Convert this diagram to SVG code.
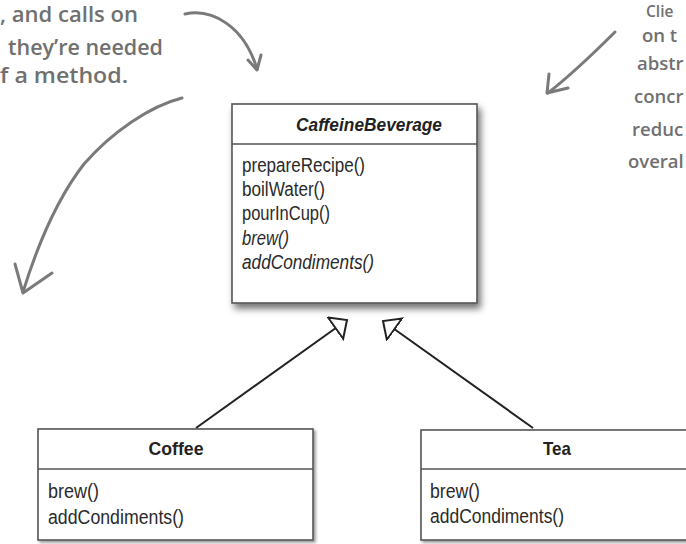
<svg xmlns="http://www.w3.org/2000/svg" width="686" height="544" viewBox="0 0 686 544">
  <defs>
    <style>
      .box { fill: #ffffff; stroke: #555555; stroke-width: 1.6; }
      .div { stroke: #555555; stroke-width: 1.6; }
      .title { font-family: "Liberation Sans", Arial, sans-serif; font-weight: bold; font-size: 19px; fill: #222222; text-anchor: middle; }
      .m { font-family: "Liberation Sans", Arial, sans-serif; font-size: 19.5px; fill: #2a2a2a; }
      .it { font-style: italic; }
      .note { font-family: "Open Sans", "DejaVu Sans", sans-serif; font-size: 21px; font-weight: 600; fill: #707070; }
      .noteR { font-family: "Open Sans", "DejaVu Sans", sans-serif; font-size: 18.5px; font-weight: 600; fill: #707070; }
      .hand { fill: none; stroke: #7a7a7a; stroke-width: 3; stroke-linecap: round; stroke-linejoin: round; }
      .gen { fill: none; stroke: #222222; stroke-width: 2; }
    </style>
    <filter id="shadow" x="-10%" y="-10%" width="130%" height="130%">
      <feDropShadow dx="3" dy="5" stdDeviation="3.5" flood-color="#000000" flood-opacity="0.55"/>
    </filter>
    <filter id="shadowSmall" x="-10%" y="-10%" width="130%" height="130%">
      <feDropShadow dx="2" dy="2" stdDeviation="1.5" flood-color="#000000" flood-opacity="0.4"/>
    </filter>
    <marker id="genHead" markerUnits="userSpaceOnUse" viewBox="0 0 20 30" markerWidth="20" markerHeight="30" refX="15" refY="14" orient="auto">
      <path d="M1,1 L15,14 L1,27 Z" fill="#ffffff" stroke="#222222" stroke-width="2" stroke-linejoin="miter"/>
    </marker>
  </defs>

  <rect width="686" height="544" fill="#ffffff"/>

  <!-- handwritten annotations -->
  <g id="note-left">
    <text class="note" x="0" y="22" textLength="138" lengthAdjust="spacingAndGlyphs">, and calls on</text>
    <text class="note" x="8" y="55" textLength="155" lengthAdjust="spacingAndGlyphs">they’re needed</text>
    <text class="note" x="0" y="83" textLength="128" lengthAdjust="spacingAndGlyphs">f a method.</text>
  </g>
  <g id="note-right">
    <text class="noteR" x="646" y="17" style="font-size:15.5px">Clie</text>
    <text class="noteR" x="642" y="42">on t</text>
    <text class="noteR" x="637" y="70">abstr</text>
    <text class="noteR" x="634" y="103">concr</text>
    <text class="noteR" x="632" y="136">reduc</text>
    <text class="noteR" x="628" y="168">overal</text>
  </g>
  <g id="hand-arrows">
    <path class="hand" d="M185,14 C212,8 244,26 257,69"/>
    <path class="hand" d="M248,60 L257,70 L261,55"/>
    <path class="hand" d="M182,98 C150,106 112,132 84,164 C56,200 36,250 23,292"/>
    <path class="hand" d="M15,264 L23,293 L52,273"/>
    <path class="hand" d="M615,32 C595,52 572,74 548,93"/>
    <path class="hand" d="M549,74 L547,93 L568,88"/>
  </g>

  <!-- connectors -->
  <g id="connectors">
    <line class="gen" x1="196" y1="428" x2="347" y2="320" marker-end="url(#genHead)"/>
    <line class="gen" x1="533" y1="428" x2="383" y2="321" marker-end="url(#genHead)"/>
  </g>

  <!-- CaffeineBeverage -->
  <g id="caffeine-beverage">
    <rect class="box" x="232" y="104" width="245" height="199" filter="url(#shadow)"/>
    <line class="div" x1="232" y1="144" x2="477" y2="144"/>
    <text class="title it" x="369" y="131" textLength="146" lengthAdjust="spacingAndGlyphs">CaffeineBeverage</text>
    <text class="m" x="242" y="172" textLength="123" lengthAdjust="spacingAndGlyphs">prepareRecipe()</text>
    <text class="m" x="242" y="196" textLength="83" lengthAdjust="spacingAndGlyphs">boilWater()</text>
    <text class="m" x="242" y="220" textLength="88" lengthAdjust="spacingAndGlyphs">pourInCup()</text>
    <text class="m it" x="242" y="245" textLength="47" lengthAdjust="spacingAndGlyphs">brew()</text>
    <text class="m it" x="242" y="269" textLength="132" lengthAdjust="spacingAndGlyphs">addCondiments()</text>
  </g>

  <!-- Coffee -->
  <g id="coffee">
    <rect class="box" x="38" y="429" width="275" height="111" filter="url(#shadowSmall)"/>
    <line class="div" x1="38" y1="469" x2="313" y2="469"/>
    <text class="title" x="176" y="455" textLength="55" lengthAdjust="spacingAndGlyphs">Coffee</text>
    <text class="m" x="48" y="498" textLength="51" lengthAdjust="spacingAndGlyphs">brew()</text>
    <text class="m" x="48" y="524" textLength="136" lengthAdjust="spacingAndGlyphs">addCondiments()</text>
  </g>

  <!-- Tea -->
  <g id="tea">
    <rect class="box" x="421" y="430" width="290" height="110" filter="url(#shadowSmall)"/>
    <line class="div" x1="421" y1="469" x2="711" y2="469"/>
    <text class="title" x="557" y="455" textLength="28" lengthAdjust="spacingAndGlyphs">Tea</text>
    <text class="m" x="430" y="498" textLength="50" lengthAdjust="spacingAndGlyphs">brew()</text>
    <text class="m" x="430" y="523" textLength="134" lengthAdjust="spacingAndGlyphs">addCondiments()</text>
  </g>
</svg>
